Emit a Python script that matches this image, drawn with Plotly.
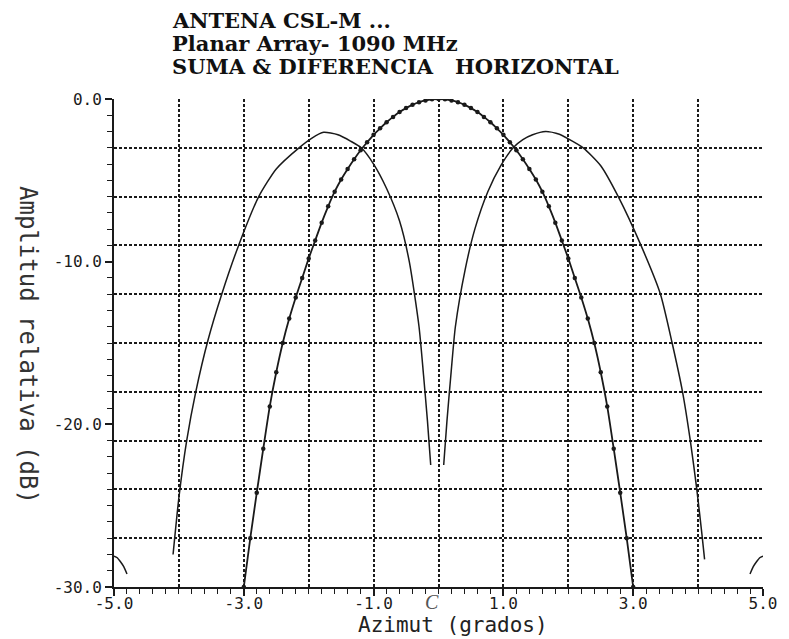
import plotly.graph_objects as go

# ---------------- data ----------------
title_lines = ["ANTENA CSL-M ...", "Planar Array- 1090 MHz", "SUMA & DIFERENCIA   HORIZONTAL"]
x_title = "Azimut (grados)"
y_title = "Amplitud relativa (dB)"

x_tick_vals = [-5, -3, -1, 1, 3, 5]
x_tick_text = ["-5.0", "-3.0", "-1.0", "1.0", "3.0", "5.0"]
y_tick_vals = [0, -10, -20, -30]
y_tick_text = ["0.0", "-10.0", "-20.0", "-30.0"]

# Sum pattern (dotted curve), one point every 0.1 degree
sum_x = [-3.0, -2.9, -2.8, -2.7, -2.6, -2.5, -2.4, -2.3, -2.2, -2.1, -2.0,
         -1.9, -1.8, -1.7, -1.6, -1.5, -1.4, -1.3, -1.2, -1.1, -1.0,
         -0.9, -0.8, -0.7, -0.6, -0.5, -0.4, -0.3, -0.2, -0.1, 0.0,
         0.1, 0.2, 0.3, 0.4, 0.5, 0.6, 0.7, 0.8, 0.9, 1.0,
         1.1, 1.2, 1.3, 1.4, 1.5, 1.6, 1.7, 1.8, 1.9, 2.0,
         2.1, 2.2, 2.3, 2.4, 2.5, 2.6, 2.7, 2.8, 2.9, 3.0]
sum_db = [-30.0, -27.0, -24.2, -21.5, -18.9, -16.8, -15.0, -13.5, -12.2, -11.0, -9.8,
          -8.7, -7.6, -6.6, -5.7, -4.95, -4.3, -3.7, -3.15, -2.66, -2.2,
          -1.8, -1.43, -1.1, -0.8, -0.56, -0.36, -0.2, -0.09, -0.02, 0.0,
          -0.02, -0.09, -0.2, -0.36, -0.56, -0.8, -1.1, -1.43, -1.8, -2.2,
          -2.66, -3.15, -3.7, -4.3, -4.95, -5.7, -6.6, -7.6, -8.7, -9.8,
          -11.0, -12.2, -13.5, -15.0, -16.8, -18.9, -21.5, -24.2, -27.0, -30.0]

# Difference pattern, left lobe
diff_left_x = [-4.09, -4.0, -3.88, -3.74, -3.55, -3.34, -3.08, -2.77, -2.5, -2.15,
               -1.95, -1.77, -1.55, -1.35, -1.19, -1.0, -0.8, -0.6, -0.45, -0.3,
               -0.23, -0.17, -0.12]
diff_left_db = [-28.0, -24.5, -21.0, -18.0, -14.8, -12.0, -9.0, -6.0, -4.3, -3.0,
                -2.4, -2.05, -2.2, -2.6, -3.0, -4.0, -5.5, -7.5, -10.0, -14.0,
                -17.0, -19.8, -22.5]
# Difference pattern, right lobe
diff_right_x = [0.08, 0.13, 0.19, 0.26, 0.41, 0.56, 0.76, 0.96, 1.15, 1.3,
                1.45, 1.65, 1.85, 2.0, 2.23, 2.5, 2.77, 3.12, 3.42, 3.6,
                3.76, 3.88, 3.98, 4.06, 4.1]
diff_right_db = [-22.5, -19.8, -17.0, -14.0, -10.5, -8.0, -5.7, -4.1, -3.0, -2.5,
                 -2.2, -2.0, -2.15, -2.45, -3.0, -4.1, -6.0, -9.0, -12.0, -15.0,
                 -18.0, -21.0, -24.0, -26.8, -28.3]

# Side-lobe fragments at the edges
side_left_x = [-5.0, -4.95, -4.9, -4.85, -4.8]
side_left_db = [-28.1, -28.2, -28.45, -28.75, -29.2]
side_right_x = [4.8, 4.85, 4.9, 4.95, 5.0]
side_right_db = [-29.2, -28.75, -28.45, -28.2, -28.1]

x_range = [-5, 5]
y_range = [-30, 0]

# ---------------- figure ----------------
INK = "#1a1a1a"
MONO = "DejaVu Sans Mono"

fig = go.Figure()

line_style = dict(color=INK, width=1.5, shape="spline", smoothing=0.6)

fig.add_trace(go.Scatter(x=diff_left_x, y=diff_left_db, mode="lines",
                         line=line_style, showlegend=False, hoverinfo="skip"))
fig.add_trace(go.Scatter(x=diff_right_x, y=diff_right_db, mode="lines",
                         line=line_style, showlegend=False, hoverinfo="skip"))
fig.add_trace(go.Scatter(x=side_left_x, y=side_left_db, mode="lines",
                         line=line_style, showlegend=False, hoverinfo="skip"))
fig.add_trace(go.Scatter(x=side_right_x, y=side_right_db, mode="lines",
                         line=line_style, showlegend=False, hoverinfo="skip"))
fig.add_trace(go.Scatter(x=sum_x, y=sum_db, mode="lines+markers",
                         line=dict(color=INK, width=1.8, shape="spline", smoothing=0.6),
                         marker=dict(color=INK, size=4.5, symbol="circle"),
                         showlegend=False, hoverinfo="skip"))
# invisible trace to carry the grid overlay axes
fig.add_trace(go.Scatter(x=x_range, y=y_range, xaxis="x2", yaxis="y2", mode="markers",
                         marker=dict(opacity=0), showlegend=False, hoverinfo="skip"))

grid_common = dict(showgrid=True, gridcolor=INK, gridwidth=1.5, griddash="3px,2px",
                   showticklabels=False, ticks="", zeroline=False, showline=False)

# page body has an 8px margin: figure is 781x631 so that it fills the 789x639 window
fig.update_layout(
    width=781, height=631,
    margin=dict(l=106, r=26, t=91, b=52),
    paper_bgcolor="white", plot_bgcolor="white",
    xaxis=dict(range=x_range, tickvals=x_tick_vals, ticktext=x_tick_text,
               ticks="outside", ticklen=7, tickwidth=1.5, tickcolor=INK,
               ticklabelstandoff=-6,
               showgrid=False, zeroline=False, showline=True, linewidth=2, linecolor=INK,
               tickfont=dict(family=MONO, size=16, color=INK),
               minor=dict(dtick=0.2, tick0=-5, ticks="outside", ticklen=5, tickwidth=1.2,
                          tickcolor=INK, showgrid=False)),
    yaxis=dict(range=y_range, tickvals=y_tick_vals, ticktext=y_tick_text,
               ticks="outside", ticklen=7, tickwidth=1.5, tickcolor=INK,
               showgrid=False, zeroline=False, showline=True, linewidth=2, linecolor=INK,
               tickfont=dict(family=MONO, size=16, color=INK),
               minor=dict(dtick=1, tick0=0, ticks="outside", ticklen=5, tickwidth=1.2,
                          tickcolor=INK, showgrid=False)),
    xaxis2=dict(range=x_range, overlaying="x", anchor="y", dtick=1, tick0=-5, **grid_common),
    yaxis2=dict(range=y_range, overlaying="y", anchor="x", dtick=3, tick0=0, **grid_common),
)

annotations = []
TITLE_FONT = dict(family="DejaVu Serif", size=21, color="#111111")
for i, line in enumerate(title_lines):
    annotations.append(dict(text="<b>%s</b>" % line, xref="paper", yref="paper",
                            x=0, y=1, xanchor="left", yanchor="middle",
                            xshift=56, yshift=79 - 23 * i, showarrow=False,
                            font=TITLE_FONT))
annotations.append(dict(text=x_title, xref="paper", yref="paper", x=0.5, y=0,
                        xanchor="center", yanchor="middle", xshift=14, yshift=-38,
                        showarrow=False, font=dict(family=MONO, size=21, color="#222222")))
annotations.append(dict(text=y_title, xref="paper", yref="paper", x=0, y=0.5,
                        xanchor="center", yanchor="middle", xshift=-86, yshift=-2,
                        textangle=90, showarrow=False,
                        font=dict(family=MONO, size=24, color="#333333")))
annotations.append(dict(text="<i>C</i>", xref="x", yref="paper", x=-0.1, y=0,
                        xanchor="center", yanchor="top", yshift=-2, showarrow=False,
                        font=dict(family="Liberation Serif", size=20, color="#555555")))
fig.update_layout(annotations=annotations)

fig.write_html("out.html")
